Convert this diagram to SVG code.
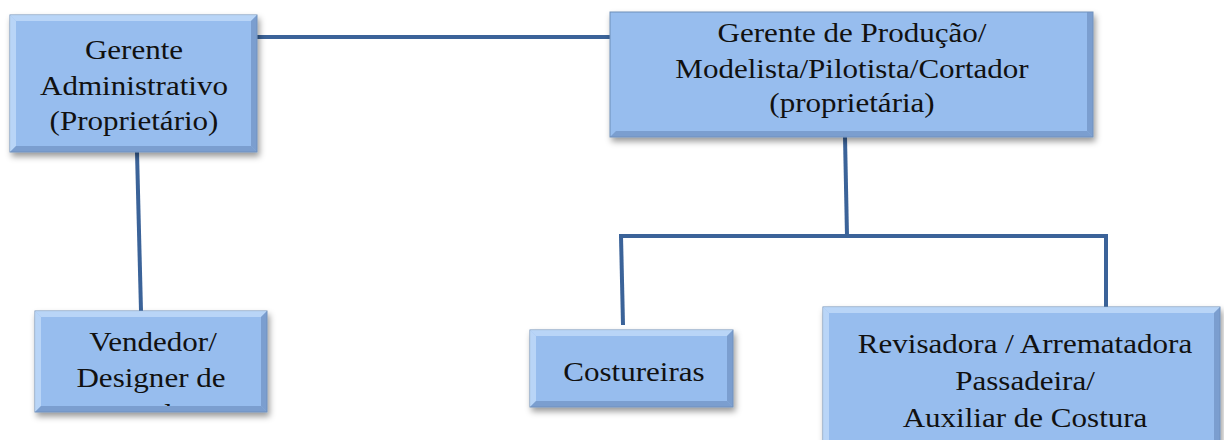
<svg xmlns="http://www.w3.org/2000/svg" width="1224" height="440" viewBox="0 0 1224 440">
<defs>
<style>
.box{fill:#97bdee;stroke:#6f8fb8;stroke-width:1}
.hl{fill:#c4defa;opacity:0.75}
.sh{fill:#6f92c2;opacity:0.7}
.lbl{font-family:"Liberation Serif","Times New Roman",serif;font-size:27px;fill:#111;text-anchor:middle}
.conn{stroke:#3b6399;stroke-width:4;fill:none}
</style>
<filter id="ds" x="-10%" y="-10%" width="130%" height="140%">
<feDropShadow dx="2" dy="4" stdDeviation="3" flood-color="#000" flood-opacity="0.4"/>
</filter>
<clipPath id="vclip"><rect x="35" y="311" width="232" height="95"/></clipPath>
</defs>
<rect width="1224" height="440" fill="#fff"/>
<g id="connectors">
<line class="conn" x1="257" y1="37" x2="611" y2="37"/>
<line class="conn" x1="137" y1="152" x2="141" y2="311"/>
<line class="conn" x1="845" y1="137" x2="847" y2="236"/>
<line class="conn" x1="619" y1="236" x2="1108" y2="236"/>
<line class="conn" x1="621" y1="236" x2="623" y2="325"/>
<line class="conn" x1="1106" y1="236" x2="1106" y2="307"/>
</g>
<g id="node-admin">
<rect class="box" x="10" y="15" width="247" height="137" filter="url(#ds)"/>
<polygon class="hl" points="10,15 257,15 251,21 16,21"/>
<polygon class="hl" points="10,15 16,21 16,146 10,152"/>
<polygon class="sh" points="10,152 16,146 251,146 257,152"/>
<polygon class="sh" points="257,15 257,152 251,146 251,21"/>
<text class="lbl" transform="translate(134,59) scale(1.15,1)">Gerente</text>
<text class="lbl" transform="translate(134,95) scale(1.15,1)">Administrativo</text>
<text class="lbl" transform="translate(134,130) scale(1.15,1)">(Proprietário)</text>
</g>
<g id="node-producao">
<rect class="box" x="610" y="12" width="483" height="125" filter="url(#ds)"/>
<polygon class="sh" points="610,137 616,131 1087,131 1093,137"/>
<polygon class="sh" points="1093,12 1093,137 1087,131 1087,12"/>
<text class="lbl" transform="translate(852,42) scale(1.15,1)">Gerente de Produção/</text>
<text class="lbl" transform="translate(852,78) scale(1.15,1)">Modelista/Pilotista/Cortador</text>
<text class="lbl" transform="translate(852,112) scale(1.15,1)">(proprietária)</text>
</g>
<g id="node-vendedor">
<rect class="box" x="35" y="311" width="232" height="101" filter="url(#ds)"/>
<polygon class="hl" points="35,311 267,311 261,317 41,317"/>
<polygon class="hl" points="35,311 41,317 41,406 35,412"/>
<polygon class="sh" points="35,412 41,406 261,406 267,412"/>
<polygon class="sh" points="267,311 267,412 261,406 261,317"/>
<text class="lbl" transform="translate(153,351) scale(1.15,1)">Vendedor/</text>
<text class="lbl" transform="translate(151,387) scale(1.15,1)">Designer de</text>
<g clip-path="url(#vclip)"><text class="lbl" transform="translate(151,423) scale(1.15,1)">moda</text></g>
</g>
<g id="node-costureiras">
<rect class="box" x="530" y="330" width="203" height="77" filter="url(#ds)"/>
<polygon class="hl" points="530,330 733,330 727,336 536,336"/>
<polygon class="hl" points="530,330 536,336 536,401 530,407"/>
<polygon class="sh" points="530,407 536,401 727,401 733,407"/>
<polygon class="sh" points="733,330 733,407 727,401 727,336"/>
<text class="lbl" transform="translate(634,381) scale(1.15,1)">Costureiras</text>
</g>
<g id="node-revisadora">
<rect class="box" x="823" y="307" width="397" height="145" filter="url(#ds)"/>
<polygon class="hl" points="823,307 1220,307 1214,313 829,313"/>
<polygon class="hl" points="823,307 829,313 829,452 823,452"/>
<polygon class="sh" points="1220,307 1220,452 1214,452 1214,313"/>
<text class="lbl" transform="translate(1025,353) scale(1.15,1)">Revisadora / Arrematadora</text>
<text class="lbl" transform="translate(1025,390) scale(1.15,1)">Passadeira/</text>
<text class="lbl" transform="translate(1025,427) scale(1.15,1)">Auxiliar de Costura</text>
</g>
</svg>
